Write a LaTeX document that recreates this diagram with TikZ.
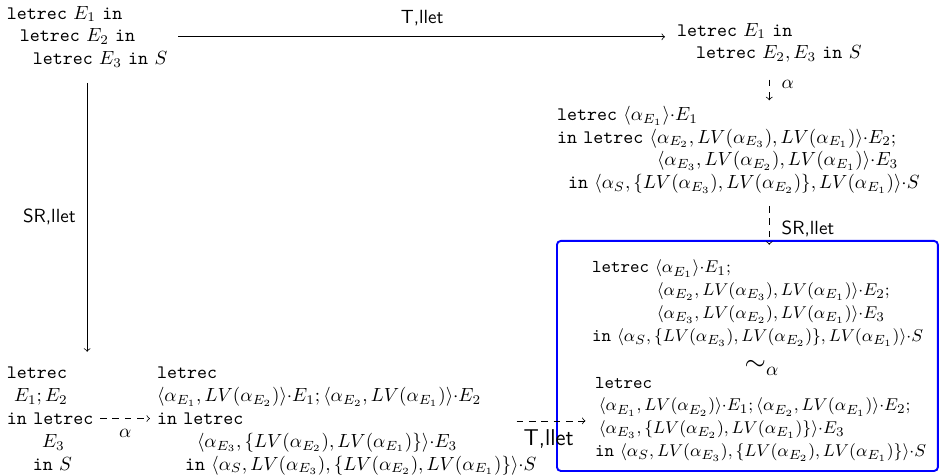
\documentclass[tikz,border=0pt]{standalone}
\usepackage{amssymb}
\usepackage{xcolor}
\usepackage{tikz}
\usetikzlibrary{arrows, positioning, calc}

\newcommand{\lr}{\texttt{letrec}}
\newcommand{\kin}{\texttt{in}}

\begin{document}
\begin{tikzpicture}[x=0.525pt, y=-0.525pt, >=to,
					term/.style={inner sep=0pt, outer sep=0pt, align=left, anchor=north west},
					boxterm/.style={term, font=\fontsize{9.5}{12}\selectfont},
					rule/.style={font=\sffamily},
					step arrow/.style={->},
					alpha arrow/.style={->, dash pattern=on 3.5pt off 3pt},
					frame/.style={draw=blue, line width=1pt, rounded corners=2pt, inner sep=0pt, anchor=north west, minimum width=200pt, minimum height=120.75pt}
				]
					\useasboundingbox (0,0) rectangle (940,476);

					% Nodes
					\node[term] (topl) at (7,6) {\lr{} $E_1$ \kin\\
						\hspace*{6.8pt}\lr{} $E_2$ \kin\\
						\hspace*{13.6pt}\lr{} $E_3$ \kin{} $S$};
					\node[term] (topr) at (677,23) {\lr{} $E_1$ \kin\\
						\hspace*{10pt}\lr{} $E_2, E_3$ \kin{} $S$};
					\node[term] (midr) at (557,106) {\lr{} $\langle\alpha_{E_1}\rangle{\cdot}E_1$\\
						\kin{} \lr{} $\langle\alpha_{E_2}, LV(\alpha_{E_3}), LV(\alpha_{E_1})\rangle{\cdot}E_2;$\\
						\hspace*{52.5pt}$\langle\alpha_{E_3}, LV(\alpha_{E_2}), LV(\alpha_{E_1})\rangle{\cdot}E_3$\\
						\hspace*{5.8pt}\kin{} $\langle\alpha_S, \{LV(\alpha_{E_3}), LV(\alpha_{E_2})\}, LV(\alpha_{E_1})\rangle{\cdot}S$};
					\node[frame] (box) at (556,240) {};
					\node[boxterm] (boxa) at (592,260) {\lr{} $\langle\alpha_{E_1}\rangle{\cdot}E_1;$\\
						\hspace*{34pt}$\langle\alpha_{E_2}, LV(\alpha_{E_3}), LV(\alpha_{E_1})\rangle{\cdot}E_2;$\\
						\hspace*{34pt}$\langle\alpha_{E_3}, LV(\alpha_{E_2}), LV(\alpha_{E_1})\rangle{\cdot}E_3$\\
						\kin{} $\langle\alpha_S, \{LV(\alpha_{E_3}), LV(\alpha_{E_2})\}, LV(\alpha_{E_1})\rangle{\cdot}S$};
					\node[inner sep=0pt] (sim) at (762,368) {\Large $\sim_\alpha$};
					\node[boxterm] (boxb) at (595,377) {\lr\\
						\hspace*{2pt}$\langle\alpha_{E_1}, LV(\alpha_{E_2})\rangle{\cdot}E_1; \langle\alpha_{E_2}, LV(\alpha_{E_1})\rangle{\cdot}E_2;$\\
						\hspace*{2pt}$\langle\alpha_{E_3}, \{LV(\alpha_{E_2}), LV(\alpha_{E_1})\}\rangle{\cdot}E_3$\\
						\kin{} $\langle\alpha_S, LV(\alpha_{E_3}), \{LV(\alpha_{E_2}), LV(\alpha_{E_1})\}\rangle{\cdot}S$};
					\node[term] (botl) at (7,367) {\lr\\
						\hspace*{3.7pt}$E_1; E_2$\\
						\kin{} \lr\\
						\hspace*{18.4pt}$E_3$\\
						\hspace*{13.6pt}\kin{} $S$};
					\node[term] (botm) at (157,367) {\lr\\
						$\langle\alpha_{E_1}, LV(\alpha_{E_2})\rangle{\cdot}E_1; \langle\alpha_{E_2}, LV(\alpha_{E_1})\rangle{\cdot}E_2$\\
						\kin{} \lr\\
						\hspace*{21pt}$\langle\alpha_{E_3}, \{LV(\alpha_{E_2}), LV(\alpha_{E_1})\}\rangle{\cdot}E_3$\\
						\hspace*{14.7pt}\kin{} $\langle\alpha_S, LV(\alpha_{E_3}), \{LV(\alpha_{E_2}), LV(\alpha_{E_1})\}\rangle{\cdot}S$};

					% Arrows
					\draw[step arrow, shorten <=5.8pt, shorten >=6.3pt] (topl.east) -- (topl.east -| topr.west) node[midway, above=2pt, rule]{T,llet};
					\draw[alpha arrow, shorten <=9pt, shorten >=3pt] (topr.south) -- (topr.south |- midr.north) node[midway, right=3pt]{$\alpha$};
					\draw[alpha arrow, shorten <=6.5pt, shorten >=-2.5pt] (topr.south |- midr.south) -- (topr.south |- box.north) node[pos=0.75, right=3pt, rule]{SR,llet};
					\draw[step arrow, shorten <=8pt, shorten >=8pt] (topl.south) -- (topl.south |- botl.north) node[midway, left=2.5pt, rule]{SR,llet};
					\draw[alpha arrow, shorten <=3.5pt, shorten >=3.7pt] (botl.east) -- (botl.east -| botm.west) node[midway, below=2pt]{$\alpha$};
					\draw[alpha arrow, shorten <=-10.5pt, shorten >=5pt] (botm.east) -- (botm.east -| boxb.west) node[midway, below=1pt, xshift=-9pt, rule, font=\sffamily\large]{T,llet};
				\end{tikzpicture}
\end{document}
